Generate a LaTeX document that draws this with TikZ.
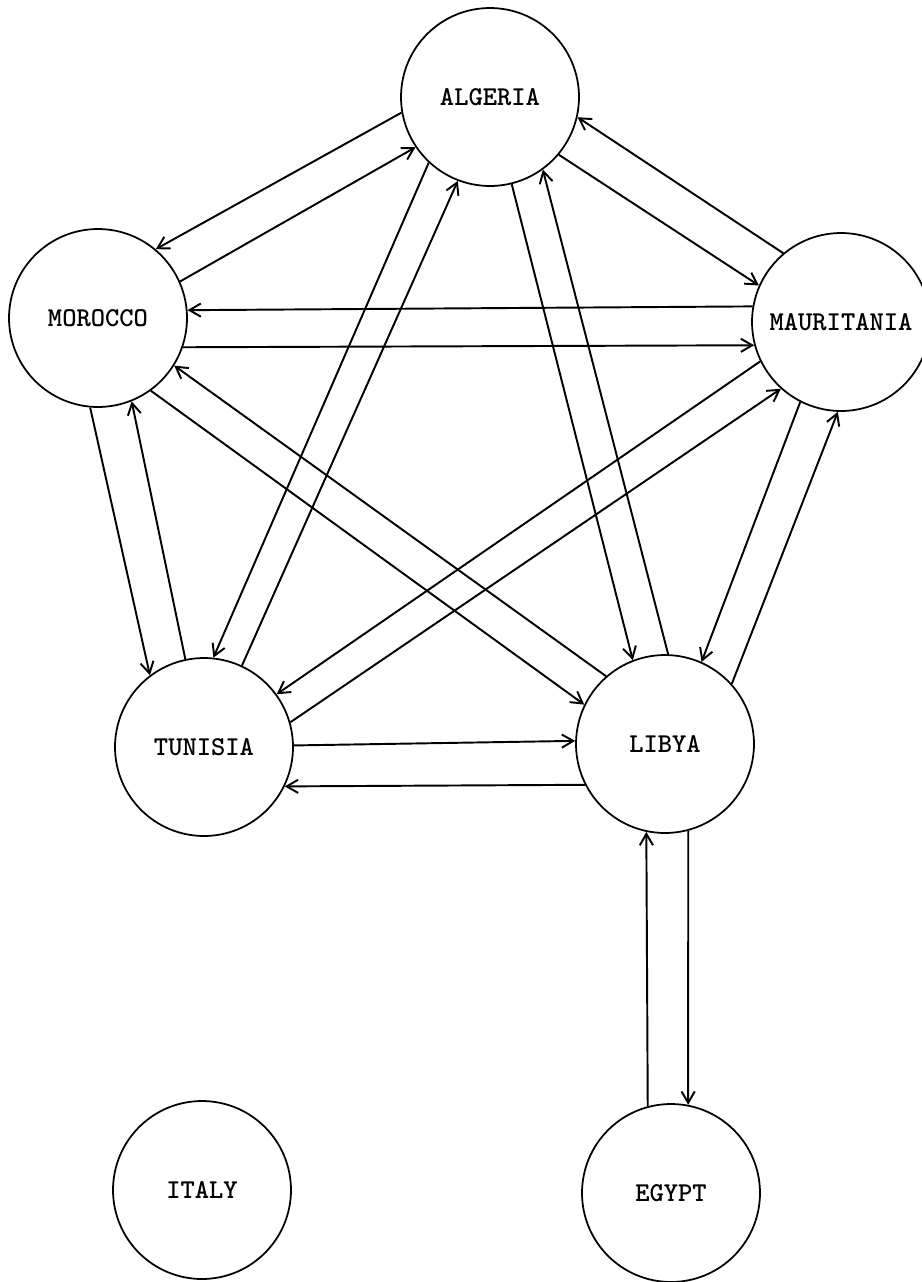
\documentclass[tikz,border=0pt]{standalone}
\usepackage{tikz}
\usetikzlibrary{arrows.meta}
\tikzstyle{country} = [circle, draw=black, line width=1pt, minimum size=3.56cm,
                       inner sep=0pt, font=\fontsize{15.5}{18}\selectfont\ttfamily\bfseries]
\tikzstyle{arr}     = [-{Straight Barb[length=6.5pt,width=7.5pt]}, line width=1.1pt]

\begin{document}
\begin{tikzpicture}[x=0.02cm, y=-0.02cm]
  \useasboundingbox (0,0) rectangle (922,1282);

  %% Countries
  \node[country] (alg) at (490,97)   {ALGERIA};
  \node[country] (mor) at (98,318)   {MOROCCO};
  \node[country] (mau) at (841,322)  {MAURITANIA};
  \node[country] (tun) at (204,747)  {TUNISIA};
  \node[country] (lib) at (665,744)  {LIBYA};
  \node[country] (ita) at (202,1190) {ITALY};
  \node[country] (egy) at (671,1193) {EGYPT};

  %% Algeria <-> Morocco
  \draw[arr] (alg.190) -- (mor.50);
  \draw[arr] (mor.24)  -- (alg.214);

  %% Algeria <-> Mauritania
  \draw[arr] (mau.130) -- (alg.347.5);
  \draw[arr] (alg.320) -- (mau.156);

  %% Morocco <-> Mauritania
  \draw[arr] (mau.170.3) -- (mor.5.2);
  \draw[arr] (mor.341)   -- (mau.195);

  %% Algeria <-> Tunisia
  \draw[arr] (alg.227.8) -- (tun.84.4);
  \draw[arr] (tun.65.4)  -- (alg.249.6);

  %% Algeria <-> Libya
  \draw[arr] (alg.284.3) -- (lib.111.5);
  \draw[arr] (lib.88)    -- (alg.306);

  %% Mauritania <-> Libya
  \draw[arr] (mau.243.4) -- (lib.66.9);
  \draw[arr] (lib.42.3)  -- (mau.268);

  %% Morocco <-> Tunisia
  \draw[arr] (mor.265) -- (tun.127);
  \draw[arr] (tun.102) -- (mor.292);

  %% Morocco <-> Libya
  \draw[arr] (mor.306.3) -- (lib.154.8);
  \draw[arr] (lib.131.1) -- (mor.328.5);

  %% Mauritania <-> Tunisia
  \draw[arr] (mau.206.8) -- (tun.36.5);
  \draw[arr] (tun.16.6)  -- (mau.228.1);

  %% Tunisia <-> Libya
  \draw[arr] (tun.1.3)   -- (lib.178.7);
  \draw[arr] (lib.207.4) -- (tun.334.7);

  %% Libya <-> Egypt
  \draw[arr] (egy.105.6) -- (lib.258.3);
  \draw[arr] (lib.285)   -- (egy.79);

\end{tikzpicture}
\end{document}
